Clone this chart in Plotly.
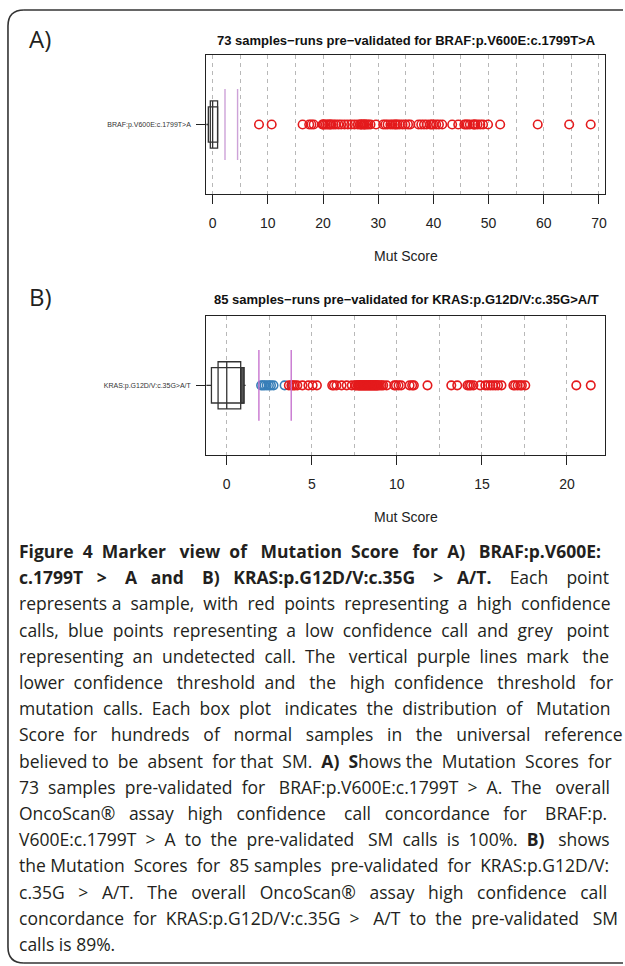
import plotly.graph_objects as go

# ---------------- data ----------------
braf_label = "BRAF:p.V600E:c.1799T>A"
kras_label = "KRAS:p.G12D/V:c.35G>A/T"

braf_high = [8.4, 10.7, 16.3, 17.5, 17.9, 18.3,
             19.9, 20.0, 20.2, 20.5, 20.8, 21.1, 21.3, 21.5, 21.9, 22.3, 22.8, 23.3, 23.9, 24.5,
             25.1, 25.7, 26.3, 26.7, 26.9, 27.0, 27.3, 27.5, 27.6, 27.9, 28.2, 28.6, 29.6,
             30.9, 31.3, 31.7, 32.2, 32.6, 33.0, 33.2, 33.5, 33.9, 34.4, 34.9, 35.4, 35.8,
             37.3, 37.8, 38.3, 38.8, 39.4, 39.7, 40.0, 40.5, 41.0, 41.6,
             43.4, 44.5, 45.6, 45.9, 46.2, 46.6, 47.2, 47.4, 47.6, 48.0, 48.5, 49.0, 49.9,
             52.1, 58.9, 64.6, 68.5]
braf_thresholds = [2.24, 4.52]
# box: [whisker_lo, outer_lo, q1, median, q3, outer_hi, whisker_hi]
braf_box = [-3.0, -0.78, -0.42, 0.0, 0.90, 0.90, 0.90]

kras_high = [3.65, 3.8, 3.9, 4.0, 4.15, 4.45, 4.8, 5.05, 5.3,
             6.2, 6.3, 6.45, 6.75, 7.05, 7.35, 7.55, 7.6, 7.7, 7.75, 7.8, 7.85, 7.9, 7.95,
             8.0, 8.05, 8.1, 8.15, 8.2, 8.25, 8.3, 8.35, 8.4, 8.45, 8.5, 8.55, 8.6, 8.65,
             8.7, 8.75, 8.8, 8.85, 8.9, 9.0, 9.1, 9.2, 9.4,
             9.85, 9.95, 10.1, 10.25, 10.75, 10.9, 11.0, 11.8, 13.2, 13.55,
             14.15, 14.25, 14.35, 14.5, 14.9, 15.2, 15.35, 15.5, 15.65, 15.8, 15.95, 16.15,
             16.85, 16.95, 17.1, 17.25, 17.35, 17.55, 20.55, 21.4]
kras_low = [2.02, 2.12, 2.22, 2.35, 2.48, 2.6, 2.75, 3.4]
kras_undetected = [0.49]
kras_thresholds = [1.89, 3.79]
kras_box = [-3.0, -0.90, -0.51, 0.0, 0.82, 1.01, 1.11]

braf_ticks = [0, 10, 20, 30, 40, 50, 60, 70]
kras_ticks = [0, 5, 10, 15, 20]

caption_lines = [
    "<b>Figure 4 Marker view of Mutation Score for A) BRAF:p.V600E:</b>",
    "<b>c.1799T > A and B) KRAS:p.G12D/V:c.35G > A/T.</b> Each point",
    "represents a sample, with red points representing a high confidence",
    "calls, blue points representing a low confidence call and grey point",
    "representing an undetected call. The vertical purple lines mark the",
    "lower confidence threshold and the high confidence threshold for",
    "mutation calls. Each box plot indicates the distribution of Mutation",
    "Score for hundreds of normal samples in the universal reference",
    "believed to be absent for that SM. <b>A) S</b>hows the Mutation Scores for",
    "73 samples pre-validated for BRAF:p.V600E:c.1799T > A. The overall",
    "OncoScan\u00ae assay high confidence call concordance for BRAF:p.",
    "V600E:c.1799T > A to the pre-validated SM calls is 100%. <b>B)</b> shows",
    "the Mutation Scores for 85 samples pre-validated for KRAS:p.G12D/V:",
    "c.35G > A/T. The overall OncoScan\u00ae assay high confidence call",
    "concordance for KRAS:p.G12D/V:c.35G > A/T to the pre-validated SM",
    "calls is 89%.",
]
# extra word-space padding per line to imitate the justified paragraph
caption_pad = [13, 23, 8, 11, 11, 13, 11, 17, 9, 10, 16, 13, 6, 18, 10, 0]

# ---------------- styling ----------------
W, H = 625, 966
RED = "#E41A1C"
BLUE = "#377EB8"
GREY = "#BDBDBD"
INK = "#231F20"
AXFONT = "Liberation Sans"
GRID = "#B8B8B8"


def px(x):
    return x / W


def py(y):
    return 1 - y / H


def justify(line, n):
    parts = line.split(" ")
    gaps = len(parts) - 1
    if n <= 0 or gaps <= 0:
        return line
    out = parts[0]
    for g in range(gaps):
        k = (n * (g + 1)) // gaps - (n * g) // gaps
        out += " " + "\u00a0" * k + parts[g + 1]
    return out


fig = go.Figure()

panels = [
    dict(xa="x", ya="y", label=braf_label, high=braf_high, low=[], und=[],
         thr=braf_thresholds, box=braf_box, ticks=braf_ticks, minor=5,
         rng=[-1.14, 71.1], top=55, bottom=194, purple="#CDA2D8",
         title="73 samples\u2212runs pre\u2212validated for BRAF:p.V600E:c.1799T>A",
         letter="A)", title_y=41, letter_y=38),
    dict(xa="x2", ya="y2", label=kras_label, high=kras_high, low=kras_low, und=kras_undetected,
         thr=kras_thresholds, box=kras_box, ticks=kras_ticks, minor=2.5,
         rng=[-1.2, 22.24], top=315.7, bottom=455, purple="#C774CF",
         title="85 samples\u2212runs pre\u2212validated for KRAS:p.G12D/V:c.35G>A/T",
         letter="B)", title_y=299, letter_y=297),
]

shapes = []
annotations = []
left, right = 207, 607

for i, p in enumerate(panels):
    xa, ya = p["xa"], p["ya"]
    for vals, col in ((p["und"], GREY), (p["low"], BLUE), (p["high"], RED)):
        if vals:
            fig.add_trace(go.Scatter(
                x=vals, y=[0] * len(vals), xaxis=xa, yaxis=ya, mode="markers",
                marker=dict(symbol="circle-open", size=8.5, color=col, line=dict(width=1.6, color=col)),
                showlegend=False, hoverinfo="x"))
    b = p["box"]
    xr, yr = xa, ya
    shapes.append(dict(type="line", xref=xr, yref=yr, x0=b[0], x1=b[1], y0=0, y1=0,
                       line=dict(color="#333333", width=1.3)))
    if b[6] > b[5]:
        shapes.append(dict(type="line", xref=xr, yref=yr, x0=b[5], x1=b[6], y0=0, y1=0,
                           line=dict(color="#333333", width=1.3)))
    shapes.append(dict(type="rect", xref=xr, yref=yr, x0=b[1], x1=b[5], y0=-0.137, y1=0.137,
                       fillcolor="white", line=dict(color="#333333", width=1.3)))
    if b[5] > b[4]:
        shapes.append(dict(type="rect", xref=xr, yref=yr, x0=b[4], x1=b[5], y0=-0.137, y1=0.137,
                           fillcolor="#555555", line=dict(color="#333333", width=1.3)))
    shapes.append(dict(type="rect", xref=xr, yref=yr, x0=b[2], x1=b[4], y0=-0.183, y1=0.183,
                       fillcolor="rgba(255,255,255,0)", line=dict(color="#333333", width=1.3)))
    shapes.append(dict(type="line", xref=xr, yref=yr, x0=b[3], x1=b[3], y0=-0.183, y1=0.183,
                       line=dict(color="#333333", width=1.3)))
    for t in p["thr"]:
        shapes.append(dict(type="line", xref=xr, yref=yr, x0=t, x1=t, y0=-0.275, y1=0.275,
                           line=dict(color=p["purple"], width=1.4)))

    sfx = "" if i == 0 else "2"
    fig.layout["xaxis" + sfx] = dict(
        domain=[px(left), px(right)], anchor=ya, range=p["rng"], tickvals=p["ticks"],
        ticks="outside", ticklen=9, tickwidth=1.2, tickcolor="#222",
        showline=True, mirror=True, linecolor="#222", linewidth=1.2,
        showgrid=True, gridcolor=GRID, griddash="4px,4px", gridwidth=1,
        minor=dict(dtick=p["minor"], tick0=0, showgrid=True, gridcolor=GRID,
                   griddash="4px,4px", gridwidth=1, ticks=""),
        zeroline=False, ticklabelstandoff=7,
        tickfont=dict(family=AXFONT, size=14, color="#222"), fixedrange=True)
    fig.layout["yaxis" + sfx] = dict(
        domain=[py(p["bottom"]), py(p["top"])], anchor=xa, range=[-0.54, 0.54],
        tickvals=[0], ticktext=[p["label"]],
        ticks="outside", ticklen=9, tickwidth=1.2, tickcolor="#222",
        showline=True, mirror=True, linecolor="#222", linewidth=1.2,
        showgrid=False, zeroline=False, ticklabelstandoff=4,
        tickfont=dict(family=AXFONT, size=7, color="#333"), fixedrange=True)

    annotations.append(dict(text="<b>" + p["title"] + "</b>", x=px(408), y=py(p["title_y"]),
                            xref="paper", yref="paper", showarrow=False, xanchor="center",
                            yanchor="middle", font=dict(family=AXFONT, size=13, color="#111")))
    annotations.append(dict(text=p["letter"], x=px(27), y=py(p["letter_y"]),
                            xref="paper", yref="paper", showarrow=False, xanchor="left",
                            yanchor="middle", font=dict(family="Open Sans", size=24, color=INK)))
    annotations.append(dict(text="Mut Score", x=px(407), y=py(p["bottom"] + 62),
                            xref="paper", yref="paper", showarrow=False, xanchor="center",
                            yanchor="middle", font=dict(family=AXFONT, size=14, color="#222")))

for k, line in enumerate(caption_lines):
    annotations.append(dict(text=justify(line, caption_pad[k]), x=px(17), y=py(551 + 26.2 * k),
                            xref="paper", yref="paper",
                            showarrow=False, xanchor="left", yanchor="middle",
                            font=dict(family="Open Sans", size=17.5, color=INK)))

# outer rounded frame: open on the right, where the page edge cuts it
r = 16
xl, yt, yb, xr_ = 8, 10, 963, 625
frame_style = dict(color="#333333", width=1.6)
shapes.append(dict(type="line", xref="paper", yref="paper", x0=px(xl + r), x1=px(xr_),
                   y0=py(yt), y1=py(yt), line=frame_style))
shapes.append(dict(type="line", xref="paper", yref="paper", x0=px(xl + r), x1=px(xr_),
                   y0=py(yb), y1=py(yb), line=frame_style))
shapes.append(dict(type="line", xref="paper", yref="paper", x0=px(xl), x1=px(xl),
                   y0=py(yt + r), y1=py(yb - r), line=frame_style))
shapes.append(dict(type="path", xref="paper", yref="paper",
                   path=f"M {px(xl + r)},{py(yt)} Q {px(xl)},{py(yt)} {px(xl)},{py(yt + r)}",
                   line=frame_style))
shapes.append(dict(type="path", xref="paper", yref="paper",
                   path=f"M {px(xl)},{py(yb - r)} Q {px(xl)},{py(yb)} {px(xl + r)},{py(yb)}",
                   line=frame_style))

fig.update_layout(width=W, height=H, margin=dict(l=0, r=0, t=0, b=0),
                  paper_bgcolor="white", plot_bgcolor="white",
                  shapes=shapes, annotations=annotations, showlegend=False)

fig.write_html("out.html", config={"displayModeBar": False})
